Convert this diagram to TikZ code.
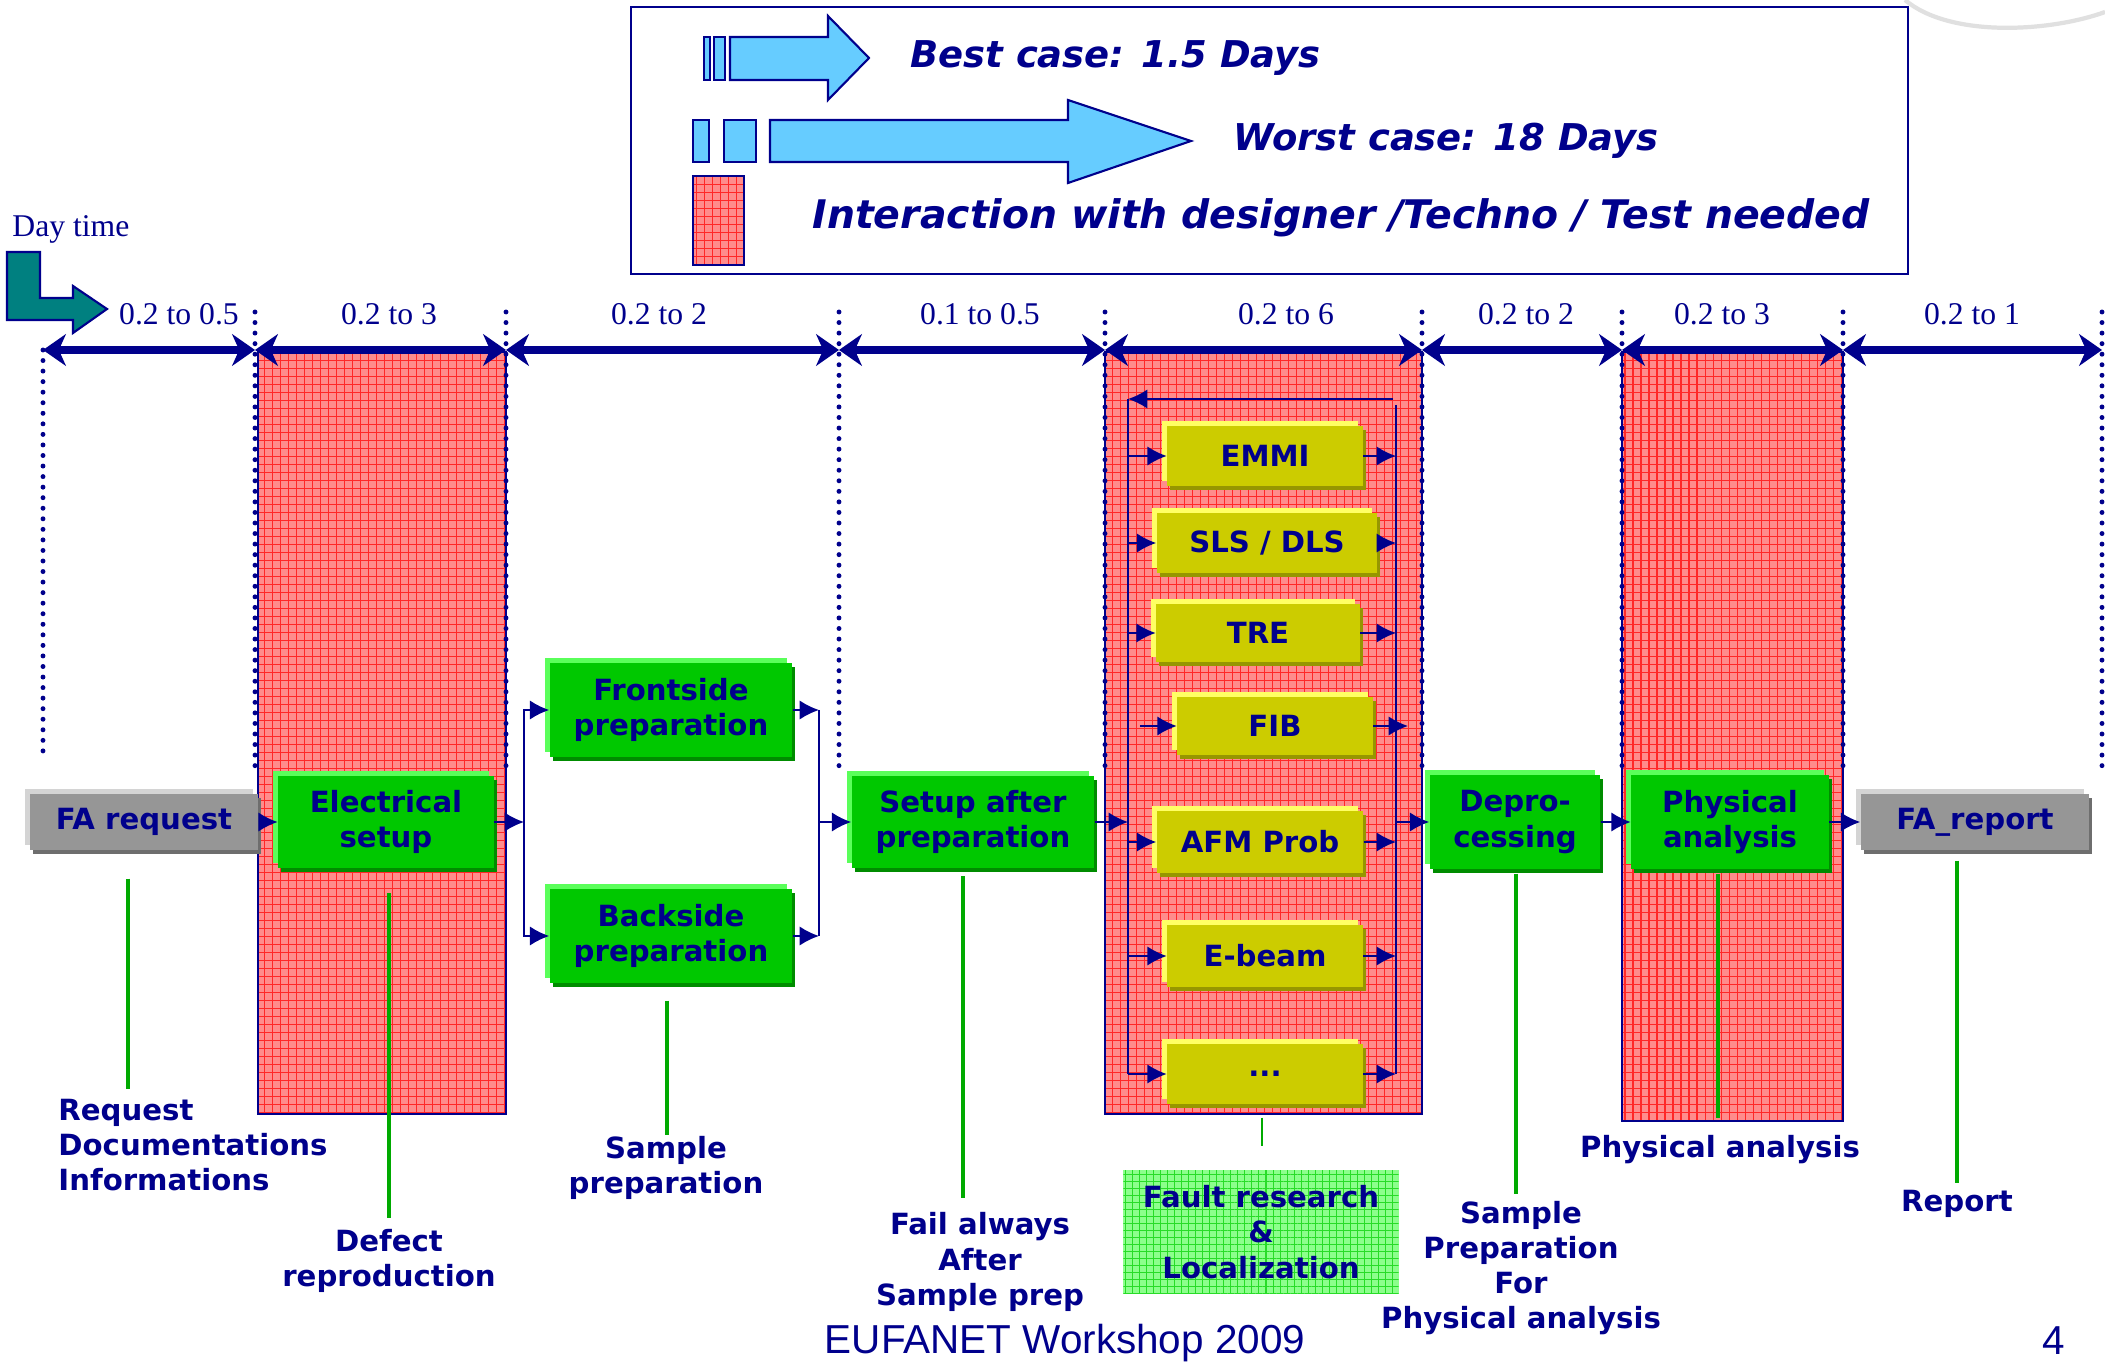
\documentclass[tikz,border=0pt]{standalone}
\usepackage{fontspec}
\setmainfont{DejaVu Sans}
\newfontfamily\serifnum{Liberation Serif}
\newfontfamily\footfont{Liberation Sans}
\usetikzlibrary{arrows,arrows.meta,calc,patterns.meta}

\definecolor{navy}{RGB}{0,0,140}
\definecolor{gmain}{RGB}{0,200,0}
\definecolor{glite}{RGB}{90,255,90}
\definecolor{gdark}{RGB}{0,140,0}
\definecolor{ymain}{RGB}{204,204,0}
\definecolor{ylite}{RGB}{255,255,100}
\definecolor{ydark}{RGB}{150,150,0}
\definecolor{smain}{RGB}{150,150,150}
\definecolor{slite}{RGB}{212,212,212}
\definecolor{sdark}{RGB}{110,110,110}
\definecolor{redbg}{RGB}{255,140,140}
\definecolor{redgrid}{RGB}{255,40,40}
\definecolor{skyarrow}{RGB}{102,204,255}
\definecolor{tealarrow}{RGB}{0,128,128}
\definecolor{faultbg}{RGB}{140,255,140}
\definecolor{faultgrid}{RGB}{40,220,40}
\definecolor{leafgreen}{RGB}{0,170,0}

% red interaction zone: fill, grid, border
\newcommand\zone[4]{%
  \fill[redbg] (#1,#2) rectangle (#3,#4);
  \draw[redgrid, line width=0.3pt, step=0.08cm] (#1,#2) grid (#3,#4);
  \draw[navy, line width=0.8pt] (#1,#2) rectangle (#3,#4);}

\begin{document}
\begin{tikzpicture}[x=0.01cm, y=-0.01cm,
    sbox/.style n args={3}{fill=#1, text=navy, align=center, inner sep=0pt,
      font=\fontsize{8.3}{10}\selectfont\bfseries,
      preaction={fill=#2, transform canvas={xshift=-0.05cm,yshift=0.05cm}},
      preaction={fill=#3, transform canvas={xshift=0.03cm,yshift=-0.04cm}}},
    gbox/.style={sbox={gmain}{glite}{gdark}},
    ybox/.style={sbox={ymain}{ylite}{ydark}},
    greybox/.style={sbox={smain}{slite}{sdark}},
    legarrow/.style={fill=skyarrow, draw=navy, line width=0.6pt},
    legtxt/.style={text=navy, anchor=west, font=\fontsize{10.5}{12}\selectfont\bfseries\itshape},
    daytxt/.style={text=navy, font=\serifnum\fontsize{9}{11}\selectfont},
    tline/.style={navy, line width=2.2pt, {Stealth[length=6.5pt,width=9pt,inset=2pt]}-{Stealth[length=6.5pt,width=9pt,inset=2pt]}},
    dotline/.style={navy, line width=1.4pt, line cap=round, dash pattern=on 0pt off 3pt},
    conn/.style={navy, line width=0.6pt, -{Latex[length=5.5pt,width=5.5pt]}},
    bus/.style={navy, line width=0.6pt},
    gline/.style={leafgreen, line width=0.9pt},
    lbl/.style={text=navy, align=center, font=\fontsize{8.3}{10}\selectfont\bfseries}]
\useasboundingbox (0,0) rectangle (2105,1364);
\fill[white] (0,0) rectangle (2105,1364);
\draw[black!12, line width=1.2pt] (1905,0) .. controls (1950,38) and (2050,32) .. (2105,12);

% legend
\draw[navy, line width=0.8pt] (631,7) rectangle (1908,274);
\draw[legarrow] (704,37) rectangle (710,80);
\draw[legarrow] (714,37) rectangle (725,80);
\draw[legarrow] (730,37) -- (828,37) -- (828,16) -- (869,58) -- (828,100) -- (828,80) -- (730,80) -- cycle;
\draw[legarrow] (693,120) rectangle (709,162);
\draw[legarrow] (724,120) rectangle (756,162);
\draw[legarrow] (770,120) -- (1068,120) -- (1068,100) -- (1191,141) -- (1068,183) -- (1068,162) -- (770,162) -- cycle;
\zone{693}{176}{744}{265}
\node[legtxt] (best) at (898,58) {Best case: 1.5 Days};
\node[legtxt] (worst) at (1221,141) {Worst case: 18 Days};
\node[legtxt, font=\fontsize{11.2}{13}\selectfont\bfseries\itshape] (inter) at (800,218) {Interaction with designer /Techno / Test needed};

% day time arrow
\node[daytxt, anchor=west] (day) at (0,229) {Day time};
\draw[fill=tealarrow, draw=navy, line width=0.6pt] (7,252) -- (40,252) -- (40,298) -- (73,298) -- (73,286)
  -- (107,309) -- (73,333) -- (73,320) -- (7,320) -- cycle;

% interaction zones
\zone{258}{352}{506}{1114}
\zone{1105}{352}{1422}{1114}
\zone{1622}{352}{1843}{1121}

% time axis
\foreach \x in {255,506,839,1105,1422,1622,1843,2102}
  \draw[dotline] (\x,312) -- (\x,770);
\draw[dotline] (43,350) -- (43,755);
\foreach \i/\x in {0/43,1/255,2/506,3/839,4/1105,5/1422,6/1622,7/1843,8/2102}
  \coordinate (s\i) at (\x,350);
\foreach \a/\b in {s0/s1,s1/s2,s2/s3,s3/s4,s4/s5,s5/s6,s6/s7,s7/s8}
  \draw[tline] (\a) -- (\b);
\foreach \x/\t in {179/0.2 to 0.5,389/0.2 to 3,659/0.2 to 2,980/0.1 to 0.5,1286/0.2 to 6,1526/0.2 to 2,1722/0.2 to 3,1972/0.2 to 1}
  \node[daytxt] at (\x,314) {\t};

% process boxes
\node[greybox, minimum width=2.28cm, minimum height=0.56cm] (fareq) at (144,822) {FA request};
\node[gbox, minimum width=2.15cm, minimum height=0.91cm] (elec) at (386,822) {Electrical\\setup};
\node[gbox, minimum width=2.42cm, minimum height=0.94cm] (front) at (671,710) {Frontside\\preparation};
\node[gbox, minimum width=2.42cm, minimum height=0.94cm] (back) at (671,936) {Backside\\preparation};
\node[gbox, minimum width=2.42cm, minimum height=0.91cm] (setup) at (973,822) {Setup after\\preparation};
\node[ybox, minimum width=1.95cm, minimum height=0.59cm] (emmi) at (1265,456) {EMMI};
\node[ybox, minimum width=2.20cm, minimum height=0.59cm] (sls) at (1267,543) {SLS / DLS};
\node[ybox, minimum width=2.03cm, minimum height=0.58cm] (tre) at (1258,633) {TRE};
\node[ybox, minimum width=1.95cm, minimum height=0.58cm] (fib) at (1275,726) {FIB};
\node[ybox, minimum width=2.06cm, minimum height=0.61cm] (afm) at (1260,842) {AFM Prob};
\node[ybox, minimum width=1.95cm, minimum height=0.61cm] (ebeam) at (1265,956) {E-beam};
\node[ybox, minimum width=1.95cm, minimum height=0.60cm] (more) at (1265,1074) {...};
\node[gbox, minimum width=1.70cm, minimum height=0.94cm] (depro) at (1515,822) {Depro-\\cessing};
\node[gbox, minimum width=1.97cm, minimum height=0.94cm] (phys) at (1730,822) {Physical\\analysis};
\node[greybox, minimum width=2.28cm, minimum height=0.56cm] (farep) at (1975,822) {FA\_report};

% flow
\coordinate (split) at (524,822);
\coordinate (join) at (819,822);
\draw[conn] (fareq) -- (elec);
\draw[conn] (elec.east) -- (split);
\draw[conn] (split) |- (front.west);
\draw[conn] (split) |- (back.west);
\draw[conn] (front.east) -- (front.east -| join);
\draw[conn] (back.east) -- (back.east -| join);
\draw[bus] (front.east -| join) -- (back.east -| join);
\draw[conn] (join) -- (setup.west);

\coordinate (lbus) at (1128,399);
\coordinate (rbus) at (1396,405);
\coordinate (loop) at (1393,399);
\draw[bus] (lbus) -- (lbus |- more.west);
\draw[bus] (rbus) -- (rbus |- more.east);
\draw[conn] (loop) -- (lbus);
\draw[conn] (setup.east) -- (lbus |- setup.east);
\foreach \t in {emmi,sls,tre,afm,ebeam,more}{
  \draw[conn] (lbus |- \t.west) -- (\t.west);
  \draw[conn] (\t.east) -- (rbus |- \t.east);
}
\draw[conn] ($(lbus |- fib.west)+(12,0)$) -- (fib.west);
\draw[conn] (fib.east) -- ($(rbus |- fib.east)+(12,0)$);
\draw[conn] (rbus |- depro.west) -- (depro.west);
\draw[conn] (depro) -- (phys);
\draw[conn] (phys) -- (farep);

% explanations
\node[lbl, align=left, anchor=west] (reqlbl) at (46,1145) {Request\\Documentations\\Informations};
\node[lbl] (defectlbl) at (389,1261) {Defect\\reproduction};
\node[lbl] (samplbl) at (666,1168) {Sample\\preparation};
\node[lbl] (faillbl) at (980,1262) {Fail always\\After\\Sample prep};
\node[lbl, minimum width=2.75cm, minimum height=1.23cm, fill=faultbg,
  postaction={pattern={Hatch[angle=0,distance=2pt,line width=0.3pt]}, pattern color=faultgrid}]
  (fault) at (1261,1232) {Fault research\\\&\\Localization};
\node[lbl] (spfpa) at (1521,1268) {Sample\\Preparation\\For\\Physical analysis};
\node[lbl] (physlbl) at (1720,1150) {Physical analysis};
\node[lbl] (replbl) at (1957,1204) {Report};

\draw[gline] ([shift={(-16,28)}]fareq.south) -- ++(0,210);
\draw[gline] ([shift={(3,25)}]elec.south) -- ++(0,325);
\draw[gline] ([shift={(-4,17)}]back.south) -- ++(0,134);
\draw[gline] ([shift={(-10,8)}]setup.south) -- ++(0,322);
\draw[leafgreen, line width=0.5pt] ([shift={(-3,13)}]more.south) -- ++(0,28);
\draw[gline] ([shift={(1,4)}]depro.south) -- ++(0,320);
\draw[gline] ([shift={(-12,4)}]phys.south) -- ++(0,244);
\draw[gline] ([shift={(-18,10)}]farep.south) -- ++(0,322);

% footer
\node[text=navy, font=\footfont\fontsize{11.5}{13}\selectfont] (foot) at (1065,1343) {EUFANET Workshop 2009};
\node[text=navy, font=\footfont\fontsize{11.5}{13}\selectfont] (pageno) at (2054,1341) {4};
\end{tikzpicture}
\end{document}
